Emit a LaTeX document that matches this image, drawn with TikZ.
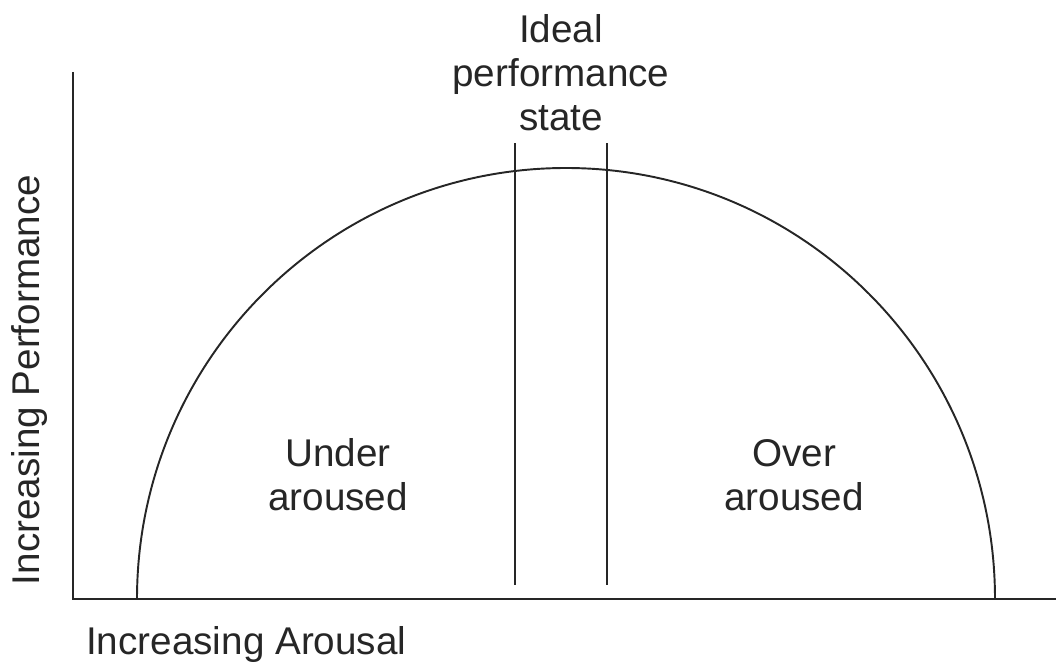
\documentclass[tikz,border=0pt]{standalone}
\usepackage{fontspec}
\setmainfont{Liberation Sans}
\usetikzlibrary{positioning}

\begin{document}
\begin{tikzpicture}[
	x=0.02cm,y=0.02cm,
	every node/.style={font=\fontsize{22}{25}\selectfont, text=black!85},
	curve/.style={line width=1.1pt, black!85},
	axis/.style={line width=1.4pt, black!85}
	]
	\useasboundingbox (0,0) rectangle (1056,663);
	
	% --------------------------
	% Axes
	% --------------------------
	\draw[axis] (73,591) -- (73,64) -- (1056,64);
	\node[rotate=90] (yl) at (30,283) {Increasing Performance};
	\node[anchor=west] (xl) at (80,18) {Increasing Arousal};
	
	% --------------------------
	% Inverted U curve
	% --------------------------
	\draw[curve] (137,64) arc[start angle=180, end angle=0, x radius=429, y radius=431];
	
	% ideal band
	\draw[curve] (515,78) -- (515,520);
	\draw[curve] (607,78) -- (607,520);
	
	% --------------------------
	% Labels
	% --------------------------
	\node[align=center] (ideal) at (561,590) {Ideal\\performance\\state};
	\node[align=center] (under) at (338,188) {Under\\aroused};
	\node[align=center] (over) at (794,188) {Over\\aroused};
\end{tikzpicture}
\end{document}
